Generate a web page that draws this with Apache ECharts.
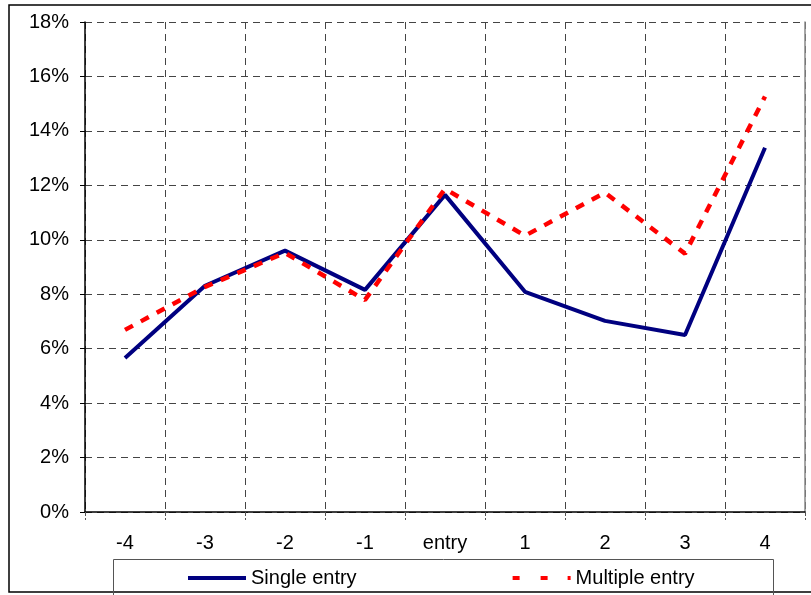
<!DOCTYPE html>
<html><head><meta charset="utf-8">
<script src="https://cdn.jsdelivr.net/npm/echarts@6/dist/echarts.min.js"></script>
<style>html,body{margin:0;padding:0;background:#fff}#c{width:811px;height:595px}</style>
</head><body><div id="c"></div>
<script>
const categories = ['-4','-3','-2','-1','entry','1','2','3','4'];
const singleEntry = [5.66, 8.31, 9.6, 8.16, 11.65, 8.09, 7.02, 6.5, 13.38];
const multipleEntry = [6.69, 8.27, 9.52, 7.79, 11.87, 10.15, 11.73, 9.49, 15.26];
const yTicks = {min: 0, max: 18, interval: 2};

const chart = echarts.init(document.getElementById('c'), null, {renderer: 'canvas'});
const font = 'Liberation Sans, Arial, sans-serif';
chart.setOption({
  animation: false,
  textStyle: {fontFamily: font},
  graphic: [
    {type: 'rect', silent: true, shape: {x: 9, y: 5, width: 830, height: 587}, style: {fill: 'none', stroke: '#000', lineWidth: 1.5}, z: -10},
    {type: 'rect', silent: true, shape: {x: 113.5, y: 559.5, width: 660, height: 40}, style: {fill: 'none', stroke: '#555', lineWidth: 1}, z: -5}
  ],
  grid: {left: 85, right: 6, top: 22, bottom: 83, containLabel: false},
  xAxis: {
    type: 'category', data: categories, boundaryGap: true,
    axisLine: {show: true, lineStyle: {color: '#000', width: 1.5}},
    axisTick: {show: true, length: 8, inside: false, lineStyle: {color: '#555', type: 'dashed'}},
    axisLabel: {color: '#000', fontSize: 20, fontFamily: font, margin: 21},
    splitLine: {show: true, lineStyle: {color: '#444', type: [7, 5], width: 1}}
  },
  yAxis: [{
    type: 'value', min: yTicks.min, max: yTicks.max, interval: yTicks.interval,
    axisLine: {show: true, lineStyle: {color: '#000', width: 1.5}},
    axisTick: {show: true, length: 5, lineStyle: {color: '#000'}},
    axisLabel: {formatter: '{value}%', color: '#000', fontSize: 20, fontFamily: font, margin: 16},
    splitLine: {show: true, lineStyle: {color: '#444', type: [7, 5], width: 1}}
  }, {
    type: 'value', position: 'right', min: yTicks.min, max: yTicks.max, interval: yTicks.interval,
    axisLine: {show: true, lineStyle: {color: '#888', width: 1.5}},
    axisTick: {show: false}, axisLabel: {show: false}, splitLine: {show: false}
  }],
  legend: {
    left: 183, top: 563, itemWidth: 58, itemHeight: 4, itemGap: 156,
    textStyle: {fontSize: 20, color: '#000', fontFamily: font},
    data: [
      {name: 'Single entry', icon: 'path://M0,0h58v4h-58z'},
      {name: 'Multiple entry', icon: 'path://M0,0h7v4h-7zM28,0h7v4h-7zM55,0h3v4h-3z'}
    ]
  },
  series: [
    {name: 'Single entry', type: 'line', data: singleEntry, symbol: 'none',
     lineStyle: {color: '#000080', width: 4}, itemStyle: {color: '#000080'}, z: 3},
    {name: 'Multiple entry', type: 'line', data: multipleEntry, symbol: 'none',
     lineStyle: {color: '#ff0000', width: 4.5, type: [9, 9]}, itemStyle: {color: '#ff0000'}, z: 4}
  ]
});
</script></body></html>
